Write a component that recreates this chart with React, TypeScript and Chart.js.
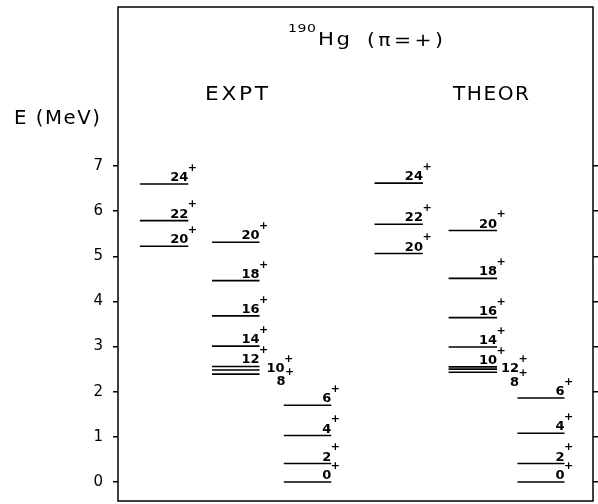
import React, { useEffect, useRef } from "react";
import { Chart, registerables } from "chart.js";

Chart.register(...registerables);

// Columns of levels (x extents in arbitrary units 0..100 across the frame)
const columnNames = ["EXPT ground", "EXPT s-band", "EXPT yrast low", "THEOR ground", "THEOR s-band", "THEOR yrast low"];
const columnStart = [4.6, 19.8, 34.9, 54.0, 69.6, 84.1];
const columnEnd = [14.8, 29.8, 44.9, 64.2, 79.8, 94.0];

// Levels
const levelColumn = [0, 0, 0, 1, 1, 1, 1, 1, 1, 1, 2, 2, 2, 2, 3, 3, 3, 4, 4, 4, 4, 4, 4, 4, 5, 5, 5, 5];
const levelSpin = [24, 22, 20, 20, 18, 16, 14, 12, 10, 8, 6, 4, 2, 0, 24, 22, 20, 20, 18, 16, 14, 10, 12, 8, 6, 4, 2, 0];
const levelEnergy = [
  6.6, 5.79, 5.22, 5.31, 4.46, 3.68, 3.01, 2.56, 2.48, 2.39, 1.7, 1.03, 0.41, 0.0,
  6.62, 5.71, 5.06, 5.57, 4.51, 3.64, 2.99, 2.55, 2.5, 2.43, 1.86, 1.08, 0.41, 0.0,
];

// Axis ticks
const yTicks = [0, 1, 2, 3, 4, 5, 6, 7];
const yMin = -0.42;
const yMax = 10.52;

// Label placement tweaks for crowded levels (pixels)
const labelShiftX: Record<number, number> = { 8: 25, 9: 26, 22: 22, 23: 22 };
const labelShiftY: Record<number, number> = { 8: 2, 9: 11, 22: 2.5, 23: 13.5 };

const FONT = '"DejaVu Sans", sans-serif';

// draw text with a fixed letter gap, then stretched horizontally to span [left, right]
function drawFit(ctx: CanvasRenderingContext2D, text: string, left: number, right: number, baseline: number, font: string, gap: number) {
  ctx.font = font;
  ctx.textAlign = "left";
  ctx.textBaseline = "alphabetic";
  const chars = Array.from(text);
  const widths = chars.map((c) => ctx.measureText(c).width);
  const total = widths.reduce((a, b) => a + b, 0) + gap * (chars.length - 1);
  const sx = (right - left) / total;
  ctx.save();
  ctx.translate(left, baseline);
  ctx.scale(sx, 1);
  let x = 0;
  chars.forEach((c, i) => {
    ctx.fillText(c, x, 0);
    x += widths[i] + gap;
  });
  ctx.restore();
}

const textPlugin = {
  id: "levelText",
  beforeDraw(chart: any) {
    const { ctx } = chart;
    ctx.save();
    ctx.fillStyle = "#fff";
    ctx.fillRect(0, 0, chart.width, chart.height);
    ctx.restore();
  },
  afterDatasetsDraw(chart: any) {
    const { ctx, chartArea, scales } = chart;
    const x = scales.x;
    const y = scales.y;
    ctx.save();
    // frame
    ctx.strokeStyle = "#000";
    ctx.lineWidth = 1.5;
    ctx.strokeRect(chartArea.left, chartArea.top, chartArea.right - chartArea.left, chartArea.bottom - chartArea.top);

    ctx.fillStyle = "#000";
    // level labels
    levelEnergy.forEach((e, i) => {
      const c = levelColumn[i];
      const px = x.getPixelForValue(columnEnd[c]) + (labelShiftX[i] ?? 0);
      const py = y.getPixelForValue(e) + (labelShiftY[i] ?? -3);
      ctx.font = `bold 13px ${FONT}`;
      ctx.textAlign = "right";
      ctx.textBaseline = "alphabetic";
      ctx.fillText(String(levelSpin[i]), px, py);
      ctx.font = `bold 11px ${FONT}`;
      ctx.textAlign = "left";
      ctx.textBaseline = "middle";
      ctx.fillText("+", px - 0.5, py - 13);
    });

    // titles
    drawFit(ctx, "190", 288, 316, 31.5, `11px ${FONT}`, 0.5);
    drawFit(ctx, "Hg", 318, 350, 45, `17px ${FONT}`, 2);
    drawFit(ctx, "(π=+)", 367, 443, 46, `18px ${FONT}`, 3);
    drawFit(ctx, "EXPT", 205, 268, 100, `20px ${FONT}`, 2.5);
    drawFit(ctx, "THEOR", 453, 529, 100, `20px ${FONT}`, 1.5);
    drawFit(ctx, "E (MeV)", 14, 100, 124, `19px ${FONT}`, 1.5);
    ctx.restore();
  },
};

export default function App() {
  const ref = useRef<HTMLCanvasElement | null>(null);
  useEffect(() => {
    if (!ref.current) return;
    const datasets = levelEnergy.map((e, i) => ({
      label: `${columnNames[levelColumn[i]]} ${levelSpin[i]}+`,
      data: [
        { x: columnStart[levelColumn[i]], y: e },
        { x: columnEnd[levelColumn[i]], y: e },
      ],
      borderColor: "#000",
      borderWidth: 1.6,
      pointRadius: 0,
      fill: false,
      showLine: true,
    }));
    const axisCommon = {
      type: "linear" as const,
      min: yMin,
      max: yMax,
      afterBuildTicks: (s: any) => {
        s.ticks = yTicks.map((v) => ({ value: v }));
      },
      border: { display: false },
      grid: { display: true, drawOnChartArea: false, drawTicks: true, tickLength: 5, color: "#000", lineWidth: 1.5 },
    };
    const chart = new Chart(ref.current, {
      type: "line",
      data: { datasets },
      options: {
        responsive: false,
        animation: false,
        layout: { padding: { top: 7, bottom: 3, left: 0, right: 0 } },
        plugins: { legend: { display: false }, tooltip: { enabled: false } },
        scales: {
          x: { type: "linear", min: 0, max: 100, display: false },
          y: {
            ...axisCommon,
            position: "left",
            afterFit: (s: any) => {
              s.width = 118;
              s.paddingTop = 0;
              s.paddingBottom = 0;
            },
            ticks: { autoSkip: false, color: "#000", font: { family: "DejaVu Sans", size: 15 }, padding: 10, callback: (v: any) => String(v) },
          },
          y2: {
            ...axisCommon,
            position: "right",
            afterFit: (s: any) => {
              s.width = 5;
              s.paddingTop = 0;
              s.paddingBottom = 0;
            },
            ticks: { display: false, autoSkip: false },
          },
        },
      },
      plugins: [textPlugin],
    });
    return () => chart.destroy();
  }, []);
  return (
    <div style={{ position: "fixed", left: 0, top: 0, width: 598, height: 504, background: "#fff" }}>
      <canvas ref={ref} width={598} height={504} style={{ width: 598, height: 504, display: "block" }} />
    </div>
  );
}
